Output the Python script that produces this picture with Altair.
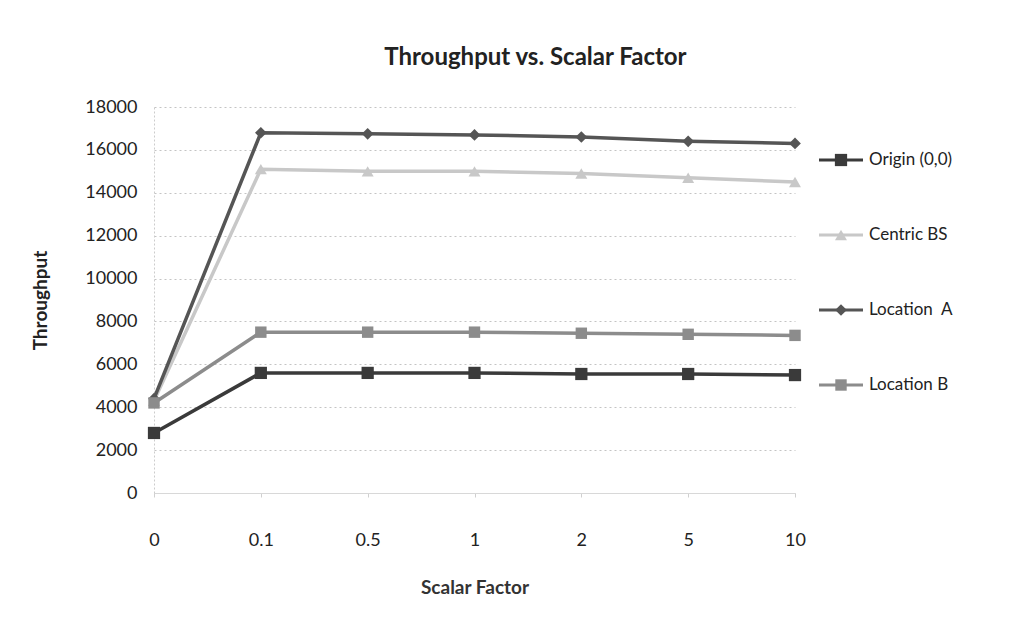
import altair as alt
import pandas as pd

# Scalar factor categories (x axis, evenly spaced)
factors = ["0", "0.1", "0.5", "1", "2", "5", "10"]

# Throughput per placement strategy
origin = [2800, 5600, 5600, 5600, 5550, 5550, 5500]
centric_bs = [4300, 15100, 15000, 15000, 14900, 14700, 14500]
location_a = [4400, 16800, 16750, 16700, 16600, 16400, 16300]
location_b = [4200, 7500, 7500, 7500, 7450, 7400, 7350]

series_names = ["Origin (0,0)", "Centric BS", "Location\u00a0\u00a0A", "Location B"]
series_values = [origin, centric_bs, location_a, location_b]
series_colors = ["#3a3a3a", "#c8c8c8", "#555555", "#8c8c8c"]
series_shapes = ["square", "triangle-up", "diamond", "square"]
series_sizes = [150, 130, 130, 150]

rows = []
for name, vals in zip(series_names, series_values):
    for f, v in zip(factors, vals):
        rows.append({"factor": f, "throughput": v, "series": name})
df = pd.DataFrame(rows)

FONT = "Lato"

color_scale = alt.Scale(domain=series_names, range=series_colors)
shape_scale = alt.Scale(domain=series_names, range=series_shapes)
size_scale = alt.Scale(domain=series_names, range=series_sizes)

x_enc = alt.X(
    "factor:N",
    sort=factors,
    scale=alt.Scale(type="point", padding=0),
    axis=alt.Axis(
        title="Scalar Factor",
        labelAngle=0,
        labelFontSize=18,
        labelPadding=34,
        labelColor="#222",
        titleFontSize=19,
        titleFontWeight="bold",
        titlePadding=29,
        titleColor="#333",
        domainColor="#d8d8d8",
        tickColor="#d0d0d0",
        tickSize=4,
        grid=False,
    ),
)
y_enc = alt.Y(
    "throughput:Q",
    scale=alt.Scale(domain=[0, 18000], nice=False),
    axis=alt.Axis(
        title="Throughput",
        values=list(range(0, 18001, 2000)),
        format="d",
        labelFontSize=18,
        labelPadding=17,
        labelColor="#222",
        titleFontSize=19,
        titleFontWeight="bold",
        titlePadding=34,
        titleColor="#222",
        domainColor="#cccccc",
        domainDash=[2, 2],
        ticks=False,
        gridColor="#c4c4c4",
        gridDash=[2, 3],
    ),
)

base = alt.Chart(df).encode(
    x=x_enc,
    y=y_enc,
    color=alt.Color("series:N", scale=color_scale, legend=None),
    detail="series:N",
)

lines = base.mark_line(strokeWidth=3.5)
points = base.mark_point(filled=True, opacity=1).encode(
    shape=alt.Shape("series:N", scale=shape_scale, legend=None),
    size=alt.Size("series:N", scale=size_scale, legend=None),
)

plot = alt.layer(lines, points).properties(width=641, height=386)

# Hand-drawn legend: line sample with marker, then the series name
leg_df = pd.DataFrame({"series": series_names})
leg_y = alt.Y(
    "series:N",
    sort=series_names,
    scale=alt.Scale(type="point", domain=series_names, range=[53, 278], padding=0),
    axis=None,
)
leg_color = alt.Color("series:N", scale=color_scale, legend=None)
leg_base = alt.Chart(leg_df).encode(y=leg_y)
leg_rule = leg_base.mark_rule(strokeWidth=3).encode(
    x=alt.value(6), x2=alt.value(50), color=leg_color
)
leg_point = leg_base.mark_point(filled=True, opacity=1).encode(
    x=alt.value(28),
    color=leg_color,
    shape=alt.Shape("series:N", scale=shape_scale, legend=None),
    size=alt.Size("series:N", scale=size_scale, legend=None),
)
leg_text = leg_base.mark_text(
    align="left", baseline="middle", fontSize=17, font=FONT, color="#222"
).encode(x=alt.value(56), text="series:N")
legend = alt.layer(leg_rule, leg_point, leg_text).properties(width=170, height=386)

chart = (
    alt.hconcat(plot, legend, spacing=6)
    .properties(
        title=alt.TitleParams(
            "Throughput vs. Scalar Factor",
            fontSize=24,
            font=FONT,
            fontWeight="bold",
            color="#222",
            anchor="middle",
            offset=28,
            dx=28,
        ),
        padding={"left": 31, "top": 45, "right": 10, "bottom": 10},
        background="white",
    )
    .configure_view(stroke="transparent")
    .configure_axis(labelFont=FONT, titleFont=FONT)
    .configure_text(font=FONT)
)

chart.save("out.html", embed_options={"renderer": "svg", "actions": False})
